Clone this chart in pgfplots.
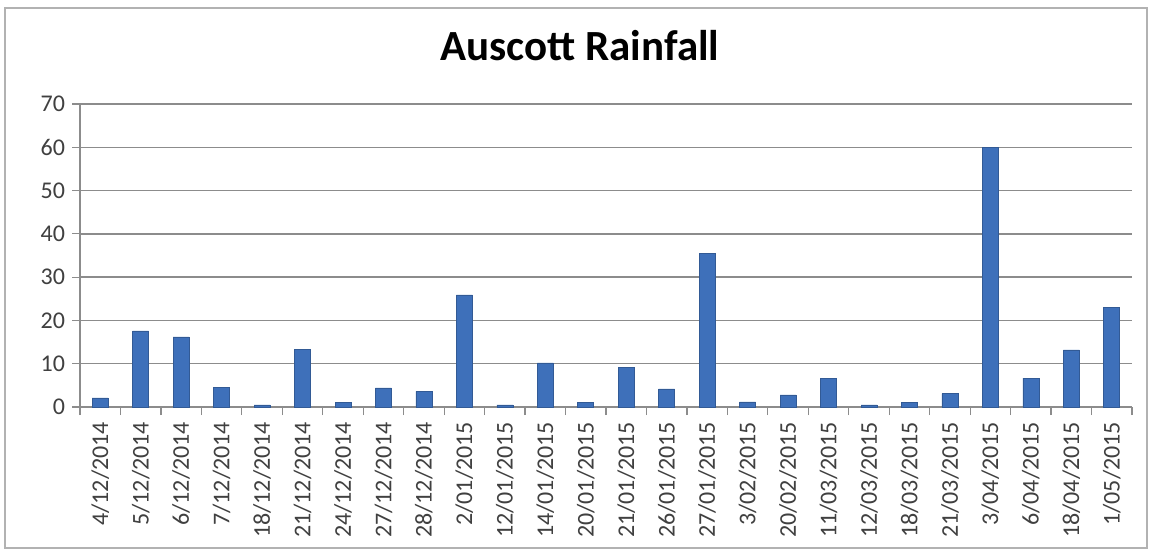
\documentclass[border=0pt]{standalone}
\usepackage{pgfplots}
\pgfplotsset{compat=1.18}
\usepackage{fontspec}
\setmainfont{Carlito}
\definecolor{barblue}{RGB}{62,112,186}
\definecolor{gridgray}{RGB}{140,140,140}
\definecolor{ticktext}{RGB}{64,64,64}
\begin{document}
\begin{tikzpicture}
\path[use as bounding box] (-40pt,-72.5pt) rectangle (535.5pt,203.5pt);
\fill[white] (-40pt,-72.5pt) rectangle (535.5pt,203.5pt);
\draw[gray!60, line width=0.8pt] (-37.5pt,-70.5pt) rectangle (533.5pt,199.5pt);
\begin{axis}[
  at={(0,0)}, anchor=south west, scale only axis,
  width=526pt, height=151.5pt,
  ybar, bar width=8pt,
  ymin=0, ymax=70, ytick={0,10,...,70},
  xmin=-0.5, xmax=25.5,
  xtick={-0.5,0.5,...,25.5},
  x tick label as interval,
  xticklabels={4/12/2014,5/12/2014,6/12/2014,7/12/2014,18/12/2014,21/12/2014,24/12/2014,27/12/2014,28/12/2014,2/01/2015,12/01/2015,14/01/2015,20/01/2015,21/01/2015,26/01/2015,27/01/2015,3/02/2015,20/02/2015,11/03/2015,12/03/2015,18/03/2015,21/03/2015,3/04/2015,6/04/2015,18/04/2015,1/05/2015},
  axis lines*=left,
  axis line style={draw=gridgray, line width=0.7pt},
  tick align=outside,
  major tick length=4pt,
  tick style={draw=gridgray, line width=0.6pt},
  ymajorgrids,
  grid style={draw=gridgray, line width=0.7pt},
  /pgf/number format/assume math mode=true,
  tick label style={font=\fontsize{12pt}{14pt}\selectfont, text=ticktext},
  xticklabel style={rotate=90, anchor=east},
  title={\textbf{Auscott Rainfall}},
  title style={at={(rel axis cs:0.475,1.152)}, anchor=center, font=\fontsize{21.5pt}{24pt}\selectfont},
]
\addplot[fill=barblue, draw=barblue!80!black, line width=0.3pt] coordinates {
(0,2.1) (1,17.6) (2,16.2) (3,4.5) (4,0.5) (5,13.4) (6,1.1) (7,4.4) (8,3.6) (9,25.9)
(10,0.5) (11,10.2) (12,1.1) (13,9.1) (14,4.2) (15,35.5) (16,1.2) (17,2.8) (18,6.7) (19,0.5)
(20,1.1) (21,3.1) (22,60.0) (23,6.7) (24,13.2) (25,23.0)
};
\end{axis}
\end{tikzpicture}
\end{document}
